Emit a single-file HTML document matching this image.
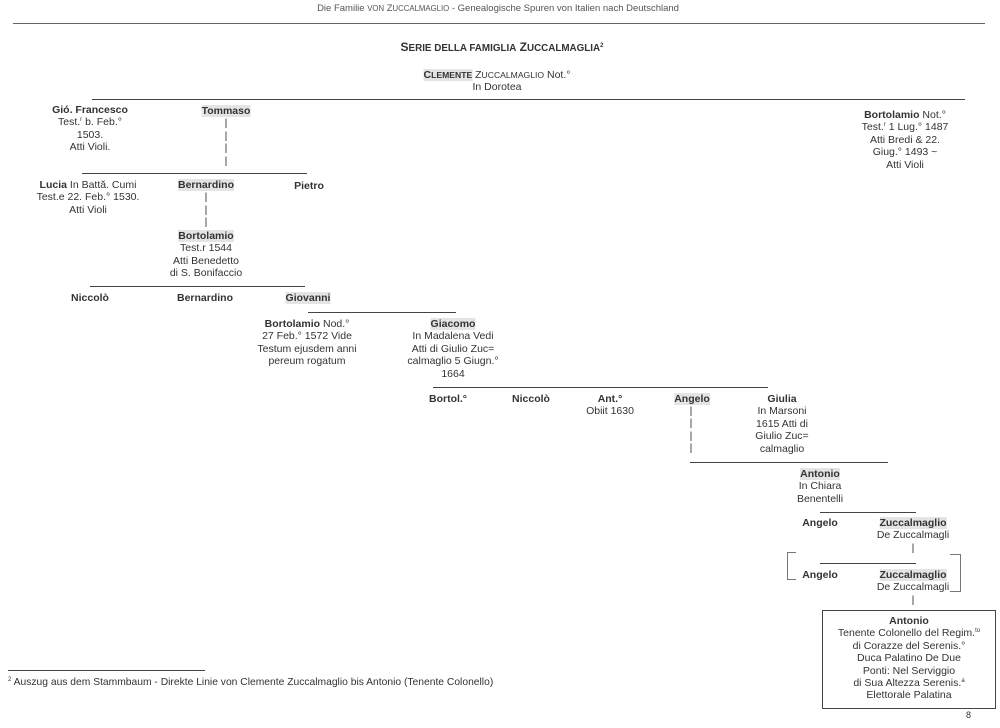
<!DOCTYPE html>
<html><head><meta charset="utf-8"><style>
body{margin:0;width:1000px;height:728px;background:#fff;position:relative;overflow:hidden;font-family:"Liberation Sans",Arial,sans-serif;color:#333;font-size:10.5px;}
.t{position:absolute;line-height:12.4px;white-space:nowrap;}
.c{transform:translateX(-50%);text-align:center;}
.h{position:absolute;height:1px;background:#444;}
b{font-weight:bold;}
.g{background:#e4e4e4;}
.s{font-size:82%;}
sup{font-size:6px;vertical-align:4px;line-height:0}
</style></head><body>
<div class="t c" style="left:498px;top:3px;font-size:9.5px;color:#555">Die Familie <span class="s">VON</span> Z<span class="s">UCCALMAGLIO</span> - Genealogische Spuren von Italien nach Deutschland</div>
<div class="h" style="left:13px;top:23px;width:972px;background:#666"></div>
<div class="t c" style="left:502px;top:41px;font-size:12px;font-weight:bold">S<span class="s">ERIE DELLA FAMIGLIA</span> Z<span class="s">UCCALMAGLIA</span><sup>2</sup></div>
<div class="t c" style="left:497px;top:69px"><b class="g">C<span class="s">LEMENTE</span></b> Z<span class="s">UCCALMAGLIO</span> Not.°<br>In Dorotea</div>
<div class="h" style="left:92px;top:99px;width:873px"></div>

<div class="t c" style="left:90px;top:104px"><b>Gió. Francesco</b><br>Test.<sup>r</sup> b. Feb.°<br>1503.<br>Atti Violi.</div>
<div class="t c" style="left:226px;top:105px"><b class="g">Tommaso</b><br>|<br>|<br>|<br>|</div>
<div class="t c" style="left:905px;top:109px"><b>Bortolamio</b> Not.°<br>Test.<sup>r</sup> 1 Lug.° 1487<br>Atti Bredi &amp; 22.<br>Giug.° 1493 ~<br>Atti Violi</div>

<div class="h" style="left:82px;top:173px;width:225px"></div>
<div class="t c" style="left:88px;top:179px"><b>Lucia</b> In Battă. Cumi<br>Test.e 22. Feb.° 1530.<br>Atti Violi</div>
<div class="t c" style="left:206px;top:179px"><b class="g">Bernardino</b><br>|<br>|<br>|</div>
<div class="t c" style="left:309px;top:180px"><b>Pietro</b></div>
<div class="t c" style="left:206px;top:230px"><b class="g">Bortolamio</b><br>Test.r 1544<br>Atti Benedetto<br>di S. Bonifaccio</div>

<div class="h" style="left:90px;top:286px;width:215px"></div>
<div class="t c" style="left:90px;top:292px"><b>Niccolò</b></div>
<div class="t c" style="left:205px;top:292px"><b>Bernardino</b></div>
<div class="t c" style="left:308px;top:292px"><b class="g">Giovanni</b></div>

<div class="h" style="left:308px;top:312px;width:148px"></div>
<div class="t c" style="left:307px;top:318px"><b>Bortolamio</b> Nod.°<br>27 Feb.° 1572 Vide<br>Testum ejusdem anni<br>pereum rogatum</div>
<div class="t c" style="left:453px;top:318px"><b class="g">Giacomo</b><br>In Madalena Vedi<br>Atti di Giulio Zuc=<br>calmaglio 5 Giugn.°<br>1664</div>

<div class="h" style="left:433px;top:387px;width:335px"></div>
<div class="t c" style="left:448px;top:393px"><b>Bortol.°</b></div>
<div class="t c" style="left:531px;top:393px"><b>Niccolò</b></div>
<div class="t c" style="left:610px;top:393px"><b>Ant.°</b><br>Obiit 1630</div>
<div class="t c" style="left:692px;top:393px"><b class="g">Angelo</b></div>
<div class="t c" style="left:691px;top:405px">|<br>|<br>|<br>|</div>
<div class="t c" style="left:782px;top:393px"><b>Giulia</b><br>In Marsoni<br>1615 Atti di<br>Giulio Zuc=<br>calmaglio</div>

<div class="h" style="left:690px;top:462px;width:198px"></div>
<div class="t c" style="left:820px;top:468px"><b class="g">Antonio</b><br>In Chiara<br>Benentelli</div>

<div class="h" style="left:820px;top:512px;width:96px"></div>
<div class="t c" style="left:820px;top:517px"><b>Angelo</b></div>
<div class="t c" style="left:913px;top:517px"><b class="g">Zuccalmaglio</b><br>De Zuccalmagli<br>|</div>
<div style="position:absolute;left:787px;top:552px;width:8px;height:26px;border:1px solid #777;border-right:none"></div>
<div style="position:absolute;left:950px;top:554px;width:10px;height:36px;border:1px solid #777;border-left:none"></div>
<div class="h" style="left:820px;top:563px;width:96px"></div>
<div class="t c" style="left:820px;top:569px"><b>Angelo</b></div>
<div class="t c" style="left:913px;top:569px"><b class="g">Zuccalmaglio</b><br>De Zuccalmagli<br>|</div>

<div style="position:absolute;left:822px;top:610px;width:172px;height:97px;border:1px solid #444"></div>
<div class="t c" style="left:909px;top:615px"><b>Antonio</b><br>Tenente Colonello del Regim.<sup>to</sup><br>di Corazze del Serenis.°<br>Duca Palatino De Due<br>Ponti: Nel Serviggio<br>di Sua Altezza Serenis.<sup>a</sup><br>Elettorale Palatina</div>

<div class="h" style="left:8px;top:670px;width:197px"></div>
<div class="t" style="left:8px;top:677px;font-size:10.3px"><sup>2</sup> Auszug aus dem Stammbaum - Direkte Linie von Clemente Zuccalmaglio bis Antonio (Tenente Colonello)</div>
<div class="t" style="left:966px;top:709px;font-size:9px">8</div>
</body></html>
